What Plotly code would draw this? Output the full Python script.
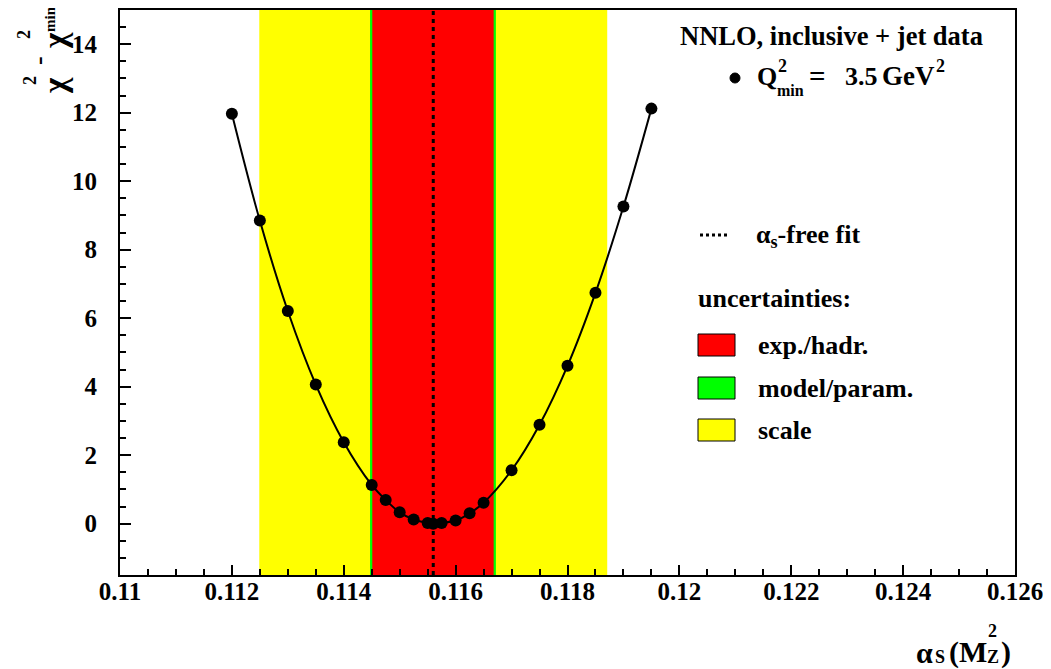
import plotly.graph_objects as go

# ---- data ----
alpha_s = [0.112, 0.1125, 0.113, 0.1135, 0.114, 0.1145, 0.11475, 0.115, 0.11525,
           0.1155, 0.1156, 0.11575, 0.116, 0.11625, 0.1165, 0.117, 0.1175, 0.118,
           0.1185, 0.119, 0.1195]
delta_chi2 = [11.97, 8.85, 6.21, 4.06, 2.38, 1.13, 0.69, 0.33, 0.12,
              0.02, 0.0, 0.02, 0.09, 0.30, 0.61, 1.56, 2.89, 4.61,
              6.74, 9.26, 12.12]
alpha_free_fit = 0.1156
band_scale = [0.11249, 0.11871]
band_model = [0.11447, 0.11672]
band_exp = [0.11451, 0.11668]
x_tickvals = [0.110, 0.112, 0.114, 0.116, 0.118, 0.120, 0.122, 0.124, 0.126]
x_ticktext = ["0.11", "0.112", "0.114", "0.116", "0.118", "0.12", "0.122", "0.124", "0.126"]
y_tickvals = [0, 2, 4, 6, 8, 10, 12, 14]
legend_labels = ["exp./hadr.", "model/param.", "scale"]
legend_colors = ["#ff0000", "#00ff00", "#ffff00"]

# ---- layout geometry (screen pixels; page body has an 8px margin) ----
OFF = 8
W, H = 1051 - OFF, 669 - OFF
PL, PR, PT, PB = 120, 1015, 10, 575
FONT = "Liberation Serif"


def px(x):
    return (x - PL) / (PR - PL)


def py(y):
    return (PB - y) / (PB - PT)


fig = go.Figure()

fig.add_trace(go.Scatter(
    x=alpha_s, y=delta_chi2, mode="lines+markers",
    line=dict(color="black", width=2, shape="spline", smoothing=1.0),
    marker=dict(color="black", size=12),
    showlegend=False, hoverinfo="x+y",
))

shapes = []
for band, col in [(band_scale, "#ffff00"), (band_model, "#00ff00"), (band_exp, "#ff0000")]:
    shapes.append(dict(type="rect", xref="x", yref="paper", x0=band[0], x1=band[1],
                       y0=0, y1=1, fillcolor=col, line=dict(width=0), layer="below"))
shapes.append(dict(type="line", xref="x", yref="paper", x0=alpha_free_fit, x1=alpha_free_fit,
                   y0=0, y1=1, line=dict(color="black", width=3, dash="4px,4px"), layer="above"))

# legend marks
shapes.append(dict(type="line", xref="paper", yref="paper", x0=px(700), x1=px(729),
                   y0=py(235), y1=py(235), line=dict(color="black", width=3, dash="3px,3px")))
box_y = [345, 388, 430]
for yc, col in zip(box_y, legend_colors):
    shapes.append(dict(type="rect", xref="paper", yref="paper", x0=px(698), x1=px(735),
                       y0=py(yc + 11), y1=py(yc - 11), fillcolor=col,
                       line=dict(color="black", width=1)))
shapes.append(dict(type="circle", xref="paper", yref="paper", x0=px(730), x1=px(740),
                   y0=py(83), y1=py(73), fillcolor="black", line=dict(color="black", width=1)))

annotations = []


def txt(x, y, s, size=26, xanchor="left", angle=0):
    annotations.append(dict(xref="paper", yref="paper", x=px(x), y=py(y), text="<b>" + s + "</b>",
                            showarrow=False, xanchor=xanchor, yanchor="middle", textangle=angle,
                            borderpad=0, font=dict(family=FONT, size=size, color="black")))


# header
txt(831, 36, "NNLO, inclusive + jet data", size=26.5, xanchor="center")
txt(756, 76, "Q")
txt(782, 66, "2", size=18, xanchor="center")
txt(776, 90, "min", size=16)
txt(808, 76, "=", size=29)
txt(844, 76, "3.5")
txt(881, 76, "GeV", size=27)
txt(940, 66, "2", size=18, xanchor="center")

# legend texts
txt(755, 236, "α<sub>s</sub>-free fit")
txt(697, 298, "uncertainties:")
for yc, lab in zip(box_y, legend_labels):
    txt(757, yc, lab)

# x-axis title  alpha_S(M_Z^2)
txt(915, 652, "α", size=30)
txt(934, 657, "S", size=18)
txt(948, 652, "(M", size=30)
txt(992, 631, "2", size=18, xanchor="center")
txt(993, 657, "Z", size=18, xanchor="center")
txt(1000, 652, ")", size=30)

# y-axis title  chi^2 - chi^2_min (rotated)
txt(55, 86, "χ", size=33, xanchor="center", angle=-90)
txt(30, 81, "2", size=18, xanchor="center", angle=-90)
txt(39, 61, "-", size=26, xanchor="center", angle=-90)
txt(55, 41, "χ", size=33, xanchor="center", angle=-90)
txt(24, 35, "2", size=18, xanchor="center", angle=-90)
txt(50, 19, "min", size=15, xanchor="center", angle=-90)

fig.update_layout(
    width=W, height=H,
    margin=dict(l=PL - OFF, r=1051 - PR, t=PT - OFF, b=669 - PB, autoexpand=False),
    paper_bgcolor="white", plot_bgcolor="white",
    shapes=shapes, annotations=annotations,
    showlegend=False,
    font=dict(family=FONT, size=25, color="black"),
)
fig.update_xaxes(
    range=[0.110, 0.126], tickvals=x_tickvals, ticktext=x_ticktext,
    ticks="inside", ticklen=10, tickwidth=1.5, tickcolor="black",
    minor=dict(dtick=0.0005, ticks="inside", ticklen=6, tickwidth=1.5, tickcolor="black", showgrid=False),
    showline=True, linewidth=2, linecolor="black", mirror=True,
    showgrid=False, zeroline=False,
    tickfont=dict(family=FONT, size=25, color="black", weight="bold"),
    ticklabelstandoff=-7,
)
fig.update_yaxes(
    range=[-1.5, 15], tickvals=y_tickvals,
    ticks="inside", ticklen=11, tickwidth=1.5, tickcolor="black",
    minor=dict(dtick=0.5, ticks="inside", ticklen=6, tickwidth=1.5, tickcolor="black", showgrid=False),
    showline=True, linewidth=2, linecolor="black", mirror=True,
    showgrid=False, zeroline=False,
    tickfont=dict(family=FONT, size=25, color="black", weight="bold"),
    ticklabelstandoff=16,
)

fig.write_html("out.html")
